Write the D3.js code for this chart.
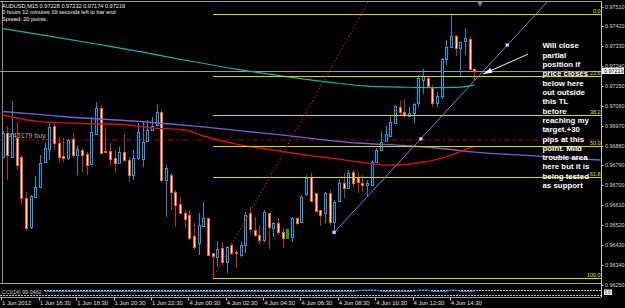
<!DOCTYPE html>
<html><head><meta charset="utf-8">
<script src="https://cdn.jsdelivr.net/npm/d3@7"></script>
<style>
html,body{margin:0;padding:0;background:#000;}
svg{display:block;}
text{font-family:"Liberation Sans",Arial,sans-serif;}
</style></head><body>
<svg id="c" width="625" height="308"></svg>
<script>
// ---- header texts ----
const headerLines = ["AUDUSD,M15  0.97228 0.97232 0.97174 0.97219",
  "0 hours 12 minutes 19 seconds left to bar end",
  "Spread: 20 points."];

// ---- OHLC (M15 bars, index 0 = 1 Jun 2012 14:30) ----
const opens = [0.96829,0.96936,0.96829,0.96912,0.96829,0.96640,0.96512,0.96648,0.96693,0.96806,
0.96862,0.96968,0.96890,0.96833,0.96822,0.96908,0.96837,0.96859,0.96840,0.96794,
0.96932,0.97048,0.96855,0.96856,0.96822,0.96802,0.96852,0.96814,0.96746,0.96822,
0.96817,0.96901,0.96950,0.96973,0.97033,0.96723,0.96746,0.96670,0.96615,0.96575,
0.96565,0.96469,0.96439,0.96515,0.96550,0.96391,0.96373,0.96414,0.96353,0.96429,
0.96397,0.96383,0.96429,0.96575,0.96497,0.96474,0.96451,0.96575,0.96504,0.96530,
0.96489,0.96459,0.96466,0.96552,0.96534,0.96660,0.96738,0.96663,0.96587,0.96572,
0.96663,0.96534,0.96629,0.96708,0.96686,0.96761,0.96732,0.96708,0.96701,0.96701,
0.96806,0.96859,0.96901,0.96923,0.96983,0.97055,0.97033,0.97013,0.97026,0.97071,
0.97176,0.97184,0.97139,0.97071,0.97104,0.97270,0.97325,0.97376,0.97320,0.97354,
0.97361,0.97228];
const highs = [0.96945,0.96968,0.97083,0.96988,0.96837,0.96670,0.96655,0.96741,0.96837,0.96890,
0.96980,0.96980,0.96917,0.96912,0.96909,0.96938,0.96877,0.96867,0.96852,0.97007,
0.97078,0.97063,0.96962,0.96890,0.96859,0.96874,0.96932,0.96829,0.96859,0.96980,
0.96988,0.96995,0.97010,0.97063,0.97041,0.96791,0.96754,0.96678,0.96648,0.96587,
0.96587,0.96527,0.96572,0.96625,0.96551,0.96392,0.96448,0.96444,0.96424,0.96439,
0.96406,0.96444,0.96580,0.96602,0.96557,0.96519,0.96587,0.96576,0.96534,0.96550,
0.96504,0.96501,0.96557,0.96557,0.96655,0.96746,0.96756,0.96664,0.96588,0.96670,
0.96678,0.96633,0.96726,0.96754,0.96769,0.96769,0.96761,0.96746,0.96723,0.96814,
0.96867,0.96947,0.96968,0.97013,0.97063,0.97083,0.97089,0.97055,0.97071,0.97199,
0.97225,0.97195,0.97154,0.97123,0.97275,0.97358,0.97470,0.97380,0.97351,0.97411,
0.97376,0.97232];
const lows = [0.96823,0.96723,0.96823,0.96769,0.96610,0.96492,0.96501,0.96642,0.96687,0.96800,
0.96814,0.96859,0.96802,0.96806,0.96814,0.96823,0.96746,0.96761,0.96746,0.96791,
0.96927,0.96846,0.96844,0.96787,0.96754,0.96798,0.96809,0.96716,0.96723,0.96814,
0.96781,0.96900,0.96945,0.96968,0.96716,0.96557,0.96587,0.96512,0.96571,0.96506,
0.96451,0.96406,0.96383,0.96510,0.96381,0.96278,0.96330,0.96338,0.96300,0.96383,
0.96323,0.96376,0.96391,0.96482,0.96466,0.96433,0.96444,0.96409,0.96466,0.96474,
0.96414,0.96458,0.96444,0.96519,0.96533,0.96651,0.96628,0.96583,0.96515,0.96527,
0.96519,0.96486,0.96628,0.96640,0.96682,0.96693,0.96663,0.96670,0.96648,0.96696,
0.96805,0.96857,0.96900,0.96918,0.96982,0.97018,0.97003,0.97009,0.96980,0.97055,
0.97113,0.97143,0.97053,0.97055,0.97089,0.97244,0.97324,0.97285,0.97191,0.97290,
0.97222,0.97174];
const closes = [0.96938,0.96837,0.96935,0.96791,0.96640,0.96504,0.96651,0.96693,0.96799,0.96867,
0.96965,0.96890,0.96829,0.96824,0.96905,0.96837,0.96862,0.96837,0.96791,0.96939,
0.97048,0.96847,0.96849,0.96818,0.96802,0.96852,0.96814,0.96746,0.96822,0.96942,
0.96897,0.96950,0.96968,0.97033,0.96723,0.96776,0.96670,0.96610,0.96572,0.96545,
0.96459,0.96418,0.96519,0.96550,0.96383,0.96379,0.96409,0.96353,0.96422,0.96391,
0.96392,0.96429,0.96565,0.96500,0.96474,0.96451,0.96580,0.96509,0.96527,0.96489,
0.96459,0.96500,0.96550,0.96531,0.96648,0.96731,0.96629,0.96584,0.96565,0.96663,
0.96534,0.96625,0.96708,0.96686,0.96754,0.96708,0.96714,0.96701,0.96708,0.96806,
0.96859,0.96897,0.96932,0.96988,0.97059,0.97033,0.97018,0.97028,0.97070,0.97184,
0.97195,0.97149,0.97071,0.97104,0.97270,0.97327,0.97376,0.97320,0.97350,0.97365,
0.97225,0.97219];
const greenBars = [61];

// ---- moving averages: [bar index, price] ----
const maTeal = [[0,0.97410],[10,0.97376],[20,0.97340],[30,0.97303],[40,0.97263],[50,0.97226],
  [60,0.97195],[70,0.97167],[78,0.97149],[85,0.97145],[92,0.97142],[98,0.97145],[101,0.97154]];
const maPurple = [[0,0.97034],[7,0.97022],[14,0.97009],[28,0.96991],[41,0.96968],[60,0.96927],
  [76,0.96891],[86,0.96880],[95,0.96864],[101,0.96850],[113,0.96834],[128,0.96814]];
const maRed = [[0,0.97018],[8,0.96988],[17,0.96980],[25,0.96976],[32,0.96960],[39,0.96950],
  [43,0.96923],[50,0.96886],[58,0.96859],[66,0.96834],[72,0.96818],[78,0.96800],[82,0.96791],
  [86,0.96793],[90,0.96805],[94,0.96823],[98,0.96852],[101,0.96877]];

// ---- drawn objects ----
const fibLabels = ["0.0","23.6","38.2","50.0","61.8","100.0"];
const fibPrices = [0.97476,0.97193,0.97019,0.96878,0.96736,0.96279];
const fibStartBar = 45;
const bidPrice = 0.97219;
const orderPrice = 0.96905;
const orderLabel = "#45179 buy";
const supportTL = [[71,0.96486],[108.07,0.97335]];
const redRay = [[45,0.96278],[58,0.96767]];
const arrowPts = [[112.5,0.97294],[102.9,0.97204]];
const noteLines = ["Will close","partial","position if","price closes","below here","out outside",
  "this TL","before","reaching my","target.+30","pips at this","point. Mild","trouble area",
  "here but it is","being tested","as support"];
const noteBar = 115.6, notePrice = 0.97321;

// ---- axes ----
const priceTicks = [0.97510,0.97420,0.97330,0.97240,0.97150,0.97060,0.96970,0.96880,0.96790,
  0.96700,0.96610,0.96520,0.96430,0.96340,0.96250];
const timeLabels = ["1 Jun 2012","1 Jun 16:30","1 Jun 18:30","1 Jun 20:30","1 Jun 22:30",
  "4 Jun 00:30","4 Jun 02:30","4 Jun 04:30","4 Jun 06:30","4 Jun 08:30","4 Jun 10:30",
  "4 Jun 12:30","4 Jun 14:30"];
const timeBars = [0,8,16,24,32,40,48,56,64,72,80,88,96];

// ---- sub window indicator ----
const subName = "CCI(14) 99.0462";
const subValues = [[9,0],[75,0],[77,1],[80,1],[81,0],[88,0],[89,1],[91,1],[92,0],[95,0],[96,1],[97,1],[98,0],[101,0]];

const svg = d3.select("#c");
const PR = 601, PT = 2, PB = 283;
const x = d3.scaleLinear().domain([0,101]).range([2.6,474.3]);
const y = d3.scaleLinear().domain([0.96250,0.97510]).range([284.5,6.5]);

svg.append("rect").attr("width",625).attr("height",308).attr("fill","#000");
svg.append("defs").append("clipPath").attr("id","pc").append("rect")
  .attr("x",0).attr("y",PT).attr("width",PR).attr("height",PB-PT);

// frame
const frame = svg.append("g").attr("shape-rendering","crispEdges");
frame.append("line").attr("x1",0).attr("x2",PR).attr("y1",1.5).attr("y2",1.5).attr("stroke","#9a9a9a");
frame.append("line").attr("x1",PR+0.5).attr("x2",PR+0.5).attr("y1",1).attr("y2",297).attr("stroke","#c8c8c8");
frame.append("line").attr("x1",0).attr("x2",PR).attr("y1",PB+0.5).attr("y2",PB+0.5).attr("stroke","#a0a0a0");
frame.append("line").attr("x1",0).attr("x2",PR).attr("y1",297.5).attr("y2",297.5).attr("stroke","#a0a0a0");
frame.append("line").attr("x1",2.5).attr("x2",2.5).attr("y1",PT).attr("y2",PB).attr("stroke","#8c8c8c");

// shift marker
svg.append("path").attr("d",d3.symbol().type(d3.symbolTriangle).size(14)())
  .attr("transform","translate(480,3.5) rotate(180)").attr("fill","#8a8a8a");

const plot = svg.append("g").attr("clip-path","url(#pc)");

// order line + label
plot.append("line").attr("x1",0).attr("x2",PR).attr("y1",y(orderPrice)).attr("y2",y(orderPrice))
  .attr("stroke","#8b1010").attr("stroke-width",1.2).attr("stroke-dasharray","6,3,2,3");
plot.append("text").attr("x",9).attr("y",y(orderPrice)-1.5).attr("font-size",7)
  .attr("fill","#b0b0b0").text(orderLabel);

// bid line
plot.append("line").attr("x1",0).attr("x2",PR).attr("y1",y(bidPrice)+0.5).attr("y2",y(bidPrice)+0.5)
  .attr("stroke","#9a9a9a").attr("shape-rendering","crispEdges");

// candles
const cg = plot.append("g").attr("shape-rendering","crispEdges");
opens.forEach((o,i)=>{
  const c = closes[i], h = highs[i], l = lows[i];
  const px = Math.round(x(i));
  const bull = c >= o;
  const green = greenBars.includes(i);
  const wick = green ? "#20a020" : (bull ? "#1a90d0" : "#b83414");
  const edge = green ? "#20a020" : (bull ? "#1ea2e6" : "#ff5522");
  const inner = green ? "#20a020" : (bull ? "#000" : "#fff6f0");
  const yh = Math.round(y(h)), yl = Math.round(y(l));
  if (!green) cg.append("rect").attr("x",px).attr("y",yh).attr("width",1).attr("height",Math.max(1,yl-yh)).attr("fill",wick);
  const yt = Math.round(y(Math.max(o,c))), yb = Math.round(y(Math.min(o,c)));
  const bh = Math.max(1,yb-yt);
  cg.append("rect").attr("x",px-1).attr("y",yt).attr("width",3).attr("height",bh+1).attr("fill",edge);
  if (bh >= 2) cg.append("rect").attr("x",px).attr("y",yt+1).attr("width",1).attr("height",bh-1).attr("fill",inner);
});

// moving averages
const line = d3.line().x(d=>x(d[0])).y(d=>y(d[1])).curve(d3.curveMonotoneX);
plot.append("path").attr("d",line(maTeal)).attr("fill","none").attr("stroke","#1fb0a8").attr("stroke-width",1.2);
plot.append("path").attr("d",line(maPurple)).attr("fill","none").attr("stroke","#7d5fcc").attr("stroke-width",1.4);
plot.append("path").attr("d",line(maRed)).attr("fill","none").attr("stroke","#d01414").attr("stroke-width",1.4);

// fibonacci
const fg = plot.append("g");
fibPrices.forEach((p,k)=>{
  fg.append("line").attr("x1",x(fibStartBar)).attr("x2",PR).attr("y1",Math.round(y(p))+0.5).attr("y2",Math.round(y(p))+0.5)
    .attr("stroke","#d8d800").attr("stroke-width",1).attr("shape-rendering","crispEdges");
  fg.append("text").attr("x",600.5).attr("y",Math.round(y(p))-1).attr("text-anchor","end")
    .attr("font-size",5.4).attr("fill","#e0e000").text(fibLabels[k]);
});

// red dotted ray
function extend(pts, toBar){
  const [a,b] = pts; const s = (b[1]-a[1])/(b[0]-a[0]);
  return [a,[toBar, a[1]+s*(toBar-a[0])]];
}
const rr = extend(redRay, 100);
plot.append("line").attr("x1",x(rr[0][0])).attr("y1",y(rr[0][1])).attr("x2",x(rr[1][0])).attr("y2",y(rr[1][1]))
  .attr("stroke","#c81818").attr("stroke-width",1.1).attr("stroke-dasharray","1.5,2");

// support trend line
const st = extend(supportTL, 140);
plot.append("line").attr("x1",x(st[0][0])).attr("y1",y(st[0][1])).attr("x2",x(st[1][0])).attr("y2",y(st[1][1]))
  .attr("stroke","#8a78e0").attr("stroke-width",1);
const mids = [supportTL[0], supportTL[1], [(supportTL[0][0]+supportTL[1][0])/2,(supportTL[0][1]+supportTL[1][1])/2]];
mids.forEach(m=>{
  plot.append("rect").attr("x",x(m[0])-1.5).attr("y",y(m[1])-1.5).attr("width",3).attr("height",3)
    .attr("fill","#e4dcff").attr("stroke","#8a78e0").attr("stroke-width",0.5);
});

// arrow
const a0 = [x(arrowPts[0][0]), y(arrowPts[0][1])], a1 = [x(arrowPts[1][0]), y(arrowPts[1][1])];
plot.append("line").attr("x1",a0[0]).attr("y1",a0[1]).attr("x2",a1[0]).attr("y2",a1[1]).attr("stroke","#f0f0f0").attr("stroke-width",1);
const ang = Math.atan2(a1[1]-a0[1], a1[0]-a0[0]);
const L=9, Wd=2.6;
const bx = a1[0]-L*Math.cos(ang), by = a1[1]-L*Math.sin(ang);
plot.append("path").attr("d",`M${a1[0]},${a1[1]}L${bx+Wd*Math.sin(ang)},${by-Wd*Math.cos(ang)}L${bx-Wd*Math.sin(ang)},${by+Wd*Math.cos(ang)}Z`)
  .attr("fill","#ffffff");

// note text
const nt = svg.append("g");
noteLines.forEach((t,k)=>{
  nt.append("text").attr("x",x(noteBar)).attr("y",y(notePrice)+k*9.33)
    .attr("font-size",7.9).attr("font-weight","bold").attr("fill","#ffffff").text(t);
});

// header
headerLines.forEach((t,k)=>{
  svg.append("text").attr("x",2).attr("y",7.5+k*6.7).attr("font-size",5.6).attr("fill","#f0f0f0").text(t);
});

// price axis
const ax = svg.append("g");
priceTicks.forEach(p=>{
  ax.append("rect").attr("x",602).attr("y",Math.round(y(p))).attr("width",1.5).attr("height",1).attr("fill","#c0c0c0");
  ax.append("text").attr("x",605).attr("y",y(p)+2).attr("font-size",5.4).attr("fill","#d8d8d8").text(p.toFixed(5));
});
ax.append("rect").attr("x",602).attr("y",y(bidPrice)-3).attr("width",22).attr("height",6.2).attr("fill","#ffffff");
ax.append("text").attr("x",604).attr("y",y(bidPrice)+2).attr("font-size",5.4).attr("fill","#000").text(bidPrice.toFixed(5));

// sub window
const sub = svg.append("g");
const ys = d3.scaleLinear().domain([0,1]).range([291.5,290]);
sub.append("line").attr("x1",44).attr("x2",PR).attr("y1",290.5).attr("y2",290.5).attr("stroke","#c0c0c0").attr("stroke-dasharray","2,1").attr("shape-rendering","crispEdges");
sub.append("line").attr("x1",0).attr("x2",PR).attr("y1",295.5).attr("y2",295.5).attr("stroke","#c0c0c0").attr("stroke-dasharray","2,1").attr("shape-rendering","crispEdges");
sub.append("path").attr("d",d3.line().x(d=>x(d[0])).y(d=>ys(d[1]))(subValues)).attr("fill","none").attr("stroke","#1e78e8").attr("stroke-width",1);
sub.append("text").attr("x",2).attr("y",294).attr("font-size",5.4).attr("fill","#d0d0d0").text(subName);
sub.append("rect").attr("x",604).attr("y",289.5).attr("width",8).attr("height",5.5).attr("fill","#fff");
sub.append("text").attr("x",604.5).attr("y",294).attr("font-size",4.5).attr("fill","#000").text("0.0");

// time axis
const tx = svg.append("g");
timeLabels.forEach((t,k)=>{
  const px = k===0 ? 2 : x(timeBars[k]);
  tx.append("rect").attr("x",Math.round(px)-1).attr("y",298).attr("width",1).attr("height",2.5).attr("fill","#c0c0c0");
  tx.append("text").attr("x",px).attr("y",304.5).attr("font-size",5.9).attr("fill","#e0e0e0").text(t);
});
</script>
</body></html>
